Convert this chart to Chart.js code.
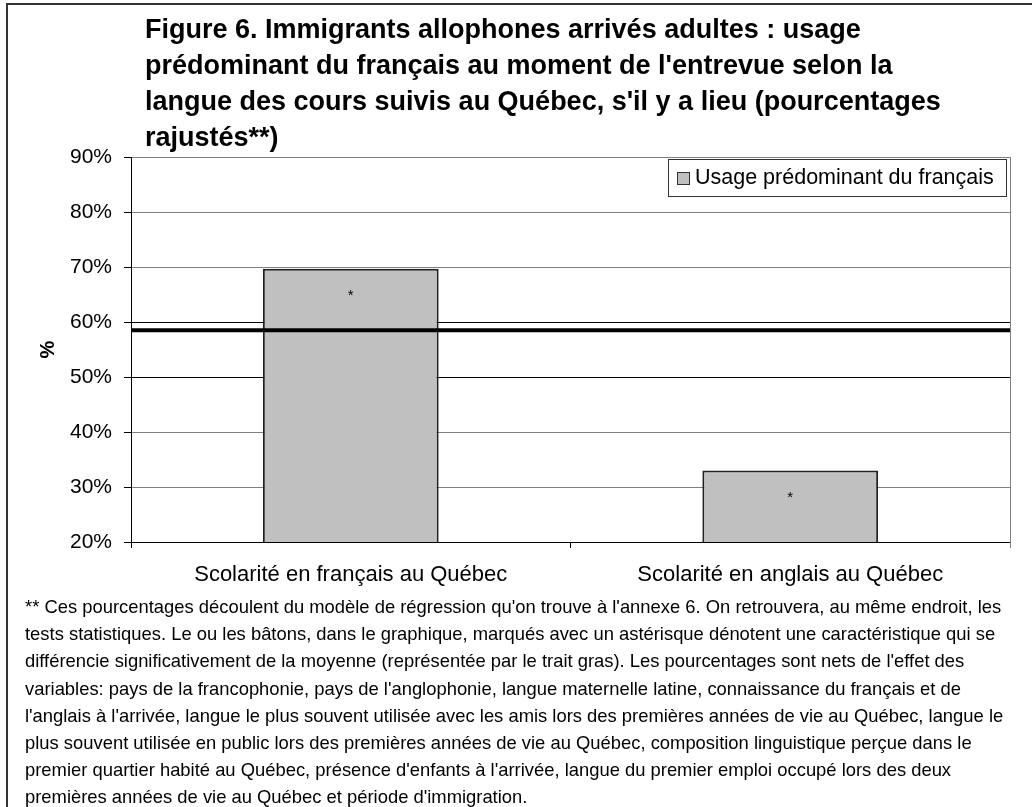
<!DOCTYPE html>
<html>
<head>
<meta charset="utf-8">
<script src="https://cdn.jsdelivr.net/npm/chart.js@4"></script>
<style>
  html, body { margin: 0; padding: 0; background: #fff; }
  body { width: 1032px; height: 807px; position: relative; overflow: hidden;
         font-family: Arial, "Liberation Sans", sans-serif; color: #000; }
  #frame { position: absolute; left: 6px; top: 3px; right: -4px; bottom: -4px;
           border-left: 2px solid #333; border-top: 2px solid #333; }
  #title { position: absolute; left: 145px; top: 11px; font-weight: bold;
           font-size: 27px; line-height: 36px; white-space: nowrap; }
  #note { position: absolute; left: 25px; top: 593px; font-size: 18.4px;
          line-height: 27.2px; white-space: nowrap; }
  #wrap { position: absolute; left: 0; top: 0; width: 1032px; height: 600px; }
</style>
</head>
<body>
<div id="frame"></div>
<div id="wrap"><canvas id="chart"></canvas></div>
<div id="title">Figure 6. Immigrants allophones arrivés adultes : usage<br>prédominant du français au moment de l'entrevue selon la<br>langue des cours suivis au Québec, s'il y a lieu (pourcentages<br>rajustés**)</div>
<div id="note">** Ces pourcentages découlent du modèle de régression qu'on trouve à l'annexe 6. On retrouvera, au même endroit, les<br>tests statistiques. Le ou les bâtons, dans le graphique, marqués avec un astérisque dénotent une caractéristique qui se<br>différencie significativement de la moyenne (représentée par le trait gras). Les pourcentages sont nets de l'effet des<br>variables: pays de la francophonie, pays de l'anglophonie, langue maternelle latine, connaissance du français et de<br>l'anglais à l'arrivée, langue le plus souvent utilisée avec les amis lors des premières années de vie au Québec, langue le<br>plus souvent utilisée en public lors des premières années de vie au Québec, composition linguistique perçue dans le<br>premier quartier habité au Québec, présence d'enfants à l'arrivée, langue du premier emploi occupé lors des deux<br>premières années de vie au Québec et période d'immigration.</div>
<script>
// categories and values
const categories = ['Scolarité en français au Québec', 'Scolarité en anglais au Québec'];
const usageFrancais = [69.7, 33.0];
const significance = ['*', '*'];
const moyenne = 58.5;
const seriesLabel = 'Usage prédominant du français';
const yMin = 20, yMax = 90, yStep = 10;

var ctx = document.getElementById('chart').getContext('2d');
ctx.canvas.width = 1032;
ctx.canvas.height = 600;

var fontFamily = 'Arial, "Liberation Sans", sans-serif';
Chart.defaults.font.family = fontFamily;
Chart.defaults.font.size = 21;
Chart.defaults.color = '#000';

// thick mean line, asterisks, plot frame and boxed legend
var extras = {
    id: 'extras',
    afterDatasetsDraw: function (chart) {
        var c = chart.ctx, area = chart.chartArea;
        var y = chart.scales.y.getPixelForValue(moyenne);
        c.save();
        c.strokeStyle = '#000';
        c.lineWidth = 4;
        c.beginPath();
        c.moveTo(area.left, y);
        c.lineTo(area.right, y);
        c.stroke();

        c.font = '15px ' + fontFamily;
        c.fillStyle = '#000';
        c.textAlign = 'center';
        c.textBaseline = 'middle';
        chart.getDatasetMeta(0).data.forEach(function (bar, i) {
            c.fillText(significance[i], bar.x, bar.y + 27);
        });

        // right edge of the plot
        c.strokeStyle = '#808080';
        c.lineWidth = 1;
        c.beginPath();
        c.moveTo(area.right + 0.5, area.top);
        c.lineTo(area.right + 0.5, area.bottom + 6);
        c.stroke();
        c.restore();
    },
    afterDraw: function (chart) {
        var c = chart.ctx, area = chart.chartArea;
        var w = 338, h = 37;
        var x = area.right - 4 - w, y = area.top + 2;
        c.save();
        c.fillStyle = '#fff';
        c.fillRect(x, y, w, h);
        c.strokeStyle = '#333';
        c.lineWidth = 1;
        c.strokeRect(x + 0.5, y + 0.5, w, h);
        c.fillStyle = '#c0c0c0';
        c.fillRect(x + 9, y + 13, 12, 12);
        c.strokeRect(x + 9.5, y + 13.5, 12, 12);
        c.fillStyle = '#000';
        c.font = '21.5px ' + fontFamily;
        c.textBaseline = 'middle';
        c.fillText(chart.data.datasets[0].label, x + 27, y + h / 2 + 1);
        c.restore();
    }
};

var chart = new Chart(ctx, {
    type: 'bar',
    data: {
        labels: categories,
        datasets: [{
            label: seriesLabel,
            data: usageFrancais,
            backgroundColor: '#c0c0c0',
            borderColor: '#222',
            borderWidth: 2,
            borderSkipped: false,
            categoryPercentage: 0.8,
            barPercentage: 0.5
        }]
    },
    options: {
        responsive: false,
        animation: false,
        devicePixelRatio: 1,
        layout: { padding: { left: 36, top: 157, right: 22, bottom: 0 } },
        plugins: {
            legend: { display: false },
            tooltip: { enabled: false }
        },
        scales: {
            x: {
                afterFit: function (scale) { scale.height = 58; },
                grid: {
                    offset: true,
                    drawOnChartArea: false,
                    tickLength: 6,
                    color: '#000'
                },
                border: { color: '#000', width: 1 },
                ticks: { padding: 14, maxRotation: 0, font: { size: 22 } }
            },
            y: {
                min: yMin,
                max: yMax,
                afterFit: function (scale) { scale.width = 95; },
                title: {
                    display: true,
                    text: '%',
                    padding: 0,
                    font: { size: 20, weight: 'bold' }
                },
                grid: {
                    tickLength: 7,
                    color: function (c) {
                        var v = c.tick && c.tick.value;
                        return (v === 60 || v === 50) ? '#000' : '#808080';
                    },
                    tickColor: '#000'
                },
                border: { color: '#000', width: 1 },
                ticks: {
                    stepSize: yStep,
                    padding: 12,
                    font: { size: 21 },
                    callback: function (v) { return v + '%'; }
                }
            }
        }
    },
    plugins: [extras]
});
</script>
</body>
</html>
